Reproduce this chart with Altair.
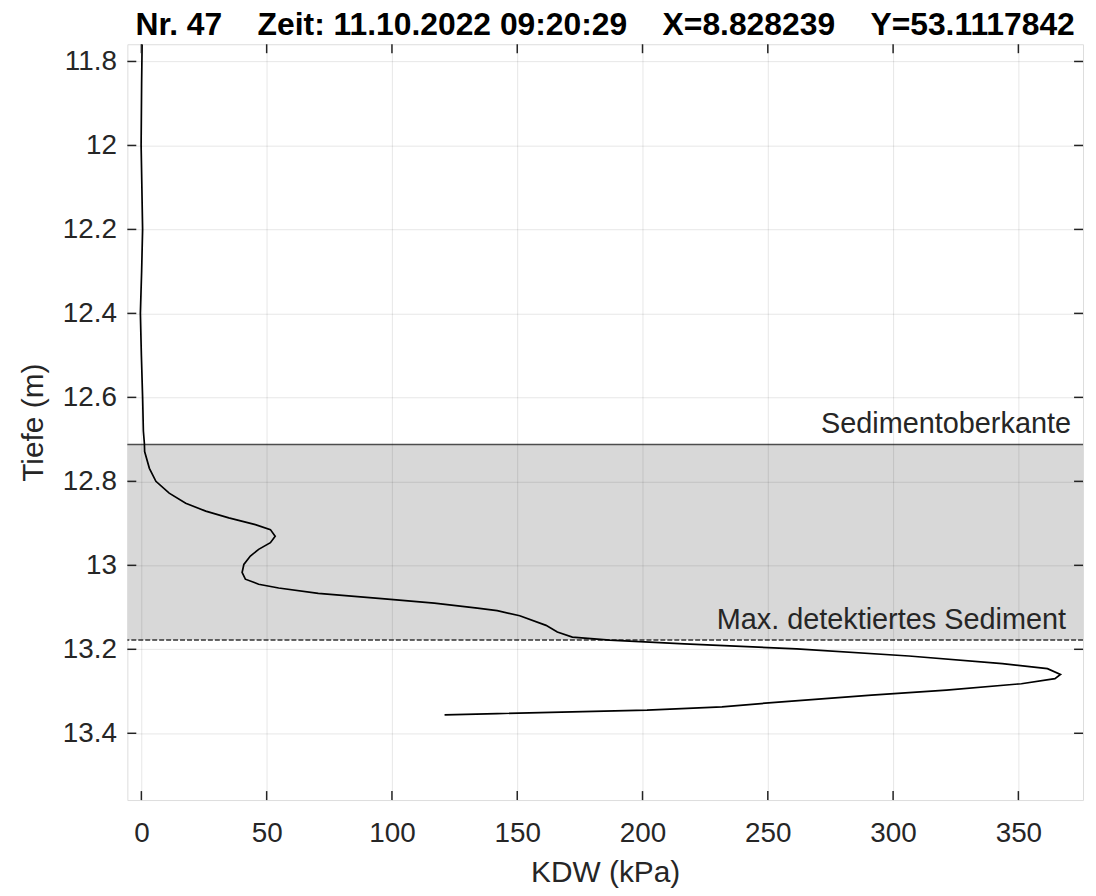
import altair as alt
import pandas as pd

# ---- data ----
kdw = [0.3, 0.1, -0.1, 0.2, 0.5, 0.1, -0.4, 0.0, 0.5, 0.8, 1.2, 1.3, 3.2, 5.8, 11.1, 17.7, 25.7,
       34.9, 45.5, 51.5, 53.4, 51.5, 46.8, 43.5, 40.9, 40.2, 41.5, 46.8, 54.8, 70.6, 97.1, 116.9,
       134.1, 142.0, 151.0, 161.5, 166.0, 172.0, 186.9, 216.7, 261.5, 306.3, 343.6, 361.6, 366.8,
       364.6, 351.2, 321.3, 291.4, 255.6, 231.7, 201.8, 142.0, 121.0]
tiefe = [11.759, 11.85, 12.0, 12.1, 12.2, 12.3, 12.4, 12.5, 12.6, 12.68, 12.71, 12.729, 12.769,
         12.800, 12.828, 12.852, 12.871, 12.887, 12.903, 12.915, 12.931, 12.946, 12.962, 12.978,
         12.998, 13.017, 13.033, 13.045, 13.054, 13.067, 13.080, 13.090, 13.102, 13.108, 13.120,
         13.143, 13.159, 13.171, 13.178, 13.187, 13.199, 13.216, 13.234, 13.246, 13.260, 13.270,
         13.282, 13.297, 13.309, 13.325, 13.337, 13.345, 13.353, 13.356]

sed_top = 12.712
sed_max = 13.178
label_texts = ["Sedimentoberkante", "Max. detektiertes Sediment"]
label_depths = [sed_top, sed_max]
label_x = [371.0, 369.0]

x_ticks = [0, 50, 100, 150, 200, 250, 300, 350]
y_ticks = [11.8, 12.0, 12.2, 12.4, 12.6, 12.8, 13.0, 13.2, 13.4]
x_domain = [-5.6, 375.8]
y_domain = [11.759, 13.559]

GAP = "\u00a0\u00a0\u00a0\u00a0"
title_parts = ["Nr. 47", "Zeit: 11.10.2022 09:20:29", "X=8.828239", "Y=53.1117842"]
title_text = GAP.join(title_parts)

W, H = 961, 760
FONT = "Liberation Sans"
DARK = "#262626"

curve_df = pd.DataFrame({"kdw": kdw, "tiefe": tiefe, "i": range(len(kdw))})
labels_df = pd.DataFrame({"text": label_texts, "tiefe": label_depths, "x": label_x})
band_df = pd.DataFrame({"y1": [sed_top], "y2": [sed_max]})
xt_df = pd.DataFrame({"v": x_ticks})
yt_df = pd.DataFrame({"v": y_ticks})
title_df = pd.DataFrame({"t": [title_text]})

xscale = alt.Scale(domain=x_domain, nice=False, zero=False)
yscale = alt.Scale(domain=y_domain, nice=False, zero=False, reverse=True)

xaxis = alt.Axis(values=x_ticks, title="KDW (kPa)", grid=True, gridColor="black", gridOpacity=0.1,
                 gridWidth=1, domain=False, ticks=False, labelPadding=20, labelFontSize=28,
                 labelFont=FONT, labelColor=DARK, titleFont=FONT, titleFontSize=30,
                 titleFontWeight="normal", titleColor=DARK, titleBaseline="alphabetic",
                 titleY=82, titleX=W / 2, zindex=1)
yaxis = alt.Axis(values=y_ticks, title="Tiefe (m)", format=".3~g", grid=True, gridColor="black",
                 gridOpacity=0.1, gridWidth=1, domain=False, ticks=False, labelPadding=11,
                 labelFontSize=28, labelFont=FONT, labelColor=DARK, titleFont=FONT,
                 titleFontSize=30, titleFontWeight="normal", titleColor=DARK,
                 titleBaseline="alphabetic", titleX=-85, titleY=H / 2, titleAngle=270, zindex=1)

band = alt.Chart(band_df).mark_rect(color="#d8d8d8").encode(
    x=alt.value(0), x2=alt.value(W),
    y=alt.Y("y1:Q", scale=yscale, axis=yaxis), y2="y2:Q")

top_line = alt.Chart(band_df).mark_rule(color="#4d4d4d", strokeWidth=1.5).encode(
    y=alt.Y("y1:Q", scale=yscale))
bot_line = alt.Chart(band_df).mark_rule(color="#333333", strokeWidth=1.5, strokeDash=[5, 2]).encode(
    y=alt.Y("y2:Q", scale=yscale))

curve = alt.Chart(curve_df).mark_line(color="black", strokeWidth=1.7, clip=True).encode(
    x=alt.X("kdw:Q", scale=xscale, axis=xaxis),
    y=alt.Y("tiefe:Q", scale=yscale),
    order="i:Q")

texts = alt.Chart(labels_df).mark_text(align="right", baseline="alphabetic", dy=-11,
                                       font=FONT, fontSize=29, color=DARK).encode(
    x=alt.X("x:Q", scale=xscale), y=alt.Y("tiefe:Q", scale=yscale), text="text:N")

title_mark = alt.Chart(title_df).mark_text(align="center", baseline="alphabetic", font=FONT,
                                           fontSize=32, fontWeight="bold", color="black").encode(
    x=alt.value(W / 2), y=alt.value(-9), text="t:N")

xt_bottom = alt.Chart(xt_df).mark_rule(color=DARK, strokeWidth=1.5).encode(
    x=alt.X("v:Q", scale=xscale), y=alt.value(H), y2=alt.value(H - 9))
xt_top = alt.Chart(xt_df).mark_rule(color=DARK, strokeWidth=1.5).encode(
    x=alt.X("v:Q", scale=xscale), y=alt.value(0), y2=alt.value(9))
yt_left = alt.Chart(yt_df).mark_rule(color=DARK, strokeWidth=1.5).encode(
    y=alt.Y("v:Q", scale=yscale), x=alt.value(0), x2=alt.value(9))
yt_right = alt.Chart(yt_df).mark_rule(color=DARK, strokeWidth=1.5).encode(
    y=alt.Y("v:Q", scale=yscale), x=alt.value(W), x2=alt.value(W - 9))

chart = alt.layer(band, top_line, bot_line, curve, texts, xt_bottom, xt_top, yt_left, yt_right,
                  title_mark).properties(
    width=W, height=H,
    padding={"left": 120, "top": 34, "right": 5, "bottom": 86},
    autosize=alt.AutoSizeParams(type="none"),
).configure_view(stroke=DARK, strokeWidth=1.5).configure(background="white")

chart.save("out.html", embed_options={"renderer": "svg", "actions": False})
